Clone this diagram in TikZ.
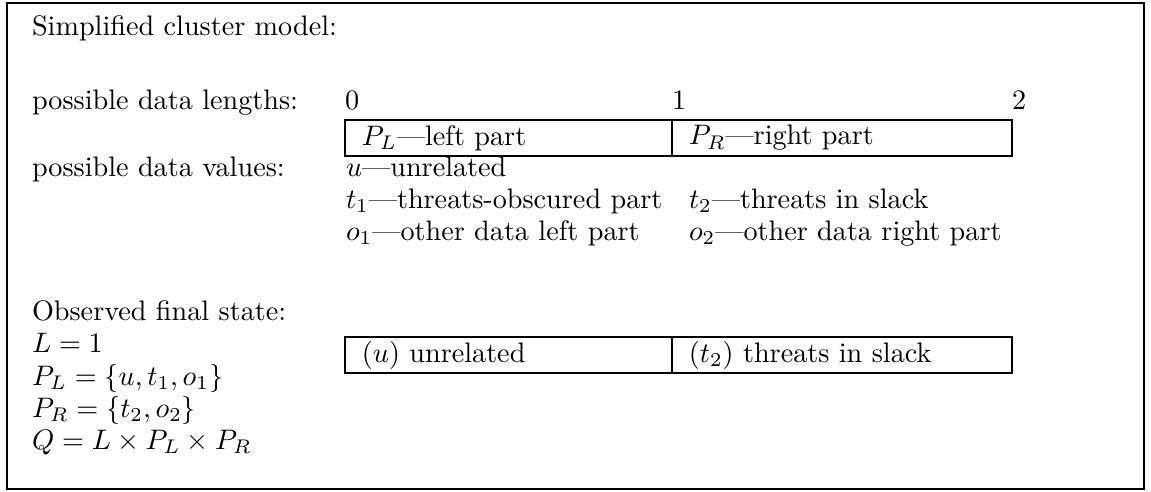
\documentclass[tikz,border=0pt]{standalone}
\begin{document}
\begin{tikzpicture}[x=0.3546pt, y=-0.3546pt,
  lbl/.style={anchor=base west, inner sep=0pt, outer sep=0pt},
  cell/.style={draw, line width=0.4pt, anchor=north west, minimum height=12.77pt,
               inner xsep=6pt, inner ysep=0pt, align=left, outer sep=0pt},
  frame/.style={draw, line width=0.4pt}]
\useasboundingbox (0,0) rectangle (1151,491);
% outer frame
\draw[frame] (7,3) rectangle (1144,489);

% heading
\node[lbl] (title) at (32,35) {Simplified cluster model:};

% data lengths and the two parts
\node[lbl] (lenlbl) at (32,109) {possible data lengths:};
\node[lbl] (n0) at (345,109) {0};
\node[lbl] (n1) at (672,109) {1};
\node[lbl] (n2) at (1012,109) {2};
\node[cell, text width=103.95pt] (pl) at (345,120) {$P_L$---left part};
\node[cell, text width=108.56pt] (pr) at (672,120) {$P_R$---right part};

% data values
\node[lbl] (vallbl) at (32,176) {possible data values:};
\node[lbl] (u)  at (346,176) {$u$---unrelated};
\node[lbl] (t1) at (346,208) {$t_1$---threats-obscured part};
\node[lbl] (o1) at (346,240) {$o_1$---other data left part};
\node[lbl] (t2) at (689,208) {$t_2$---threats in slack};
\node[lbl] (o2) at (689,240) {$o_2$---other data right part};

% observed state
\node[lbl] (obs) at (32,320) {Observed final state:};
\node[lbl] (eqL) at (32,352) {$L = 1$};
\node[lbl] (eqPL) at (32,385) {$P_L = \{u, t_1, o_1\}$};
\node[lbl] (eqPR) at (32,417) {$P_R = \{t_2, o_2\}$};
\node[lbl] (eqQ) at (32,449) {$Q = L \times P_L \times P_R$};
\node[cell, text width=103.95pt] (sl) at (345,337) {$(u)$ unrelated};
\node[cell, text width=108.56pt] (sr) at (672,337) {$(t_2)$ threats in slack};
\end{tikzpicture}
\end{document}
